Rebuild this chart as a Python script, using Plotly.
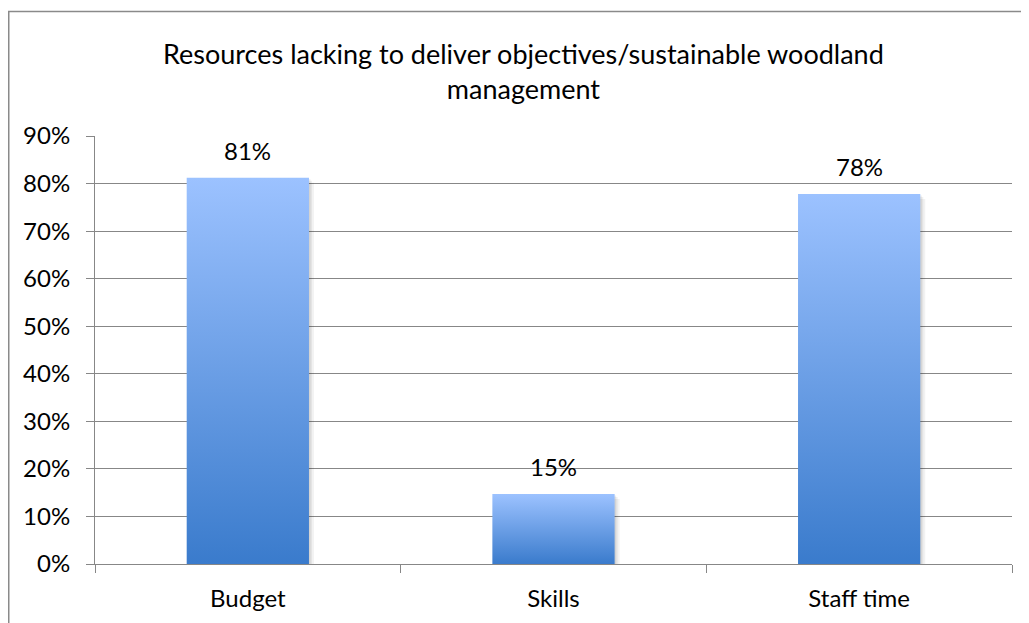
import plotly.graph_objects as go

categories = ["Budget", "Skills", "Staff time"]
values = [0.812, 0.147, 0.778]
y_tickvals = [0.0, 0.1, 0.2, 0.3, 0.4, 0.5, 0.6, 0.7, 0.8, 0.9]
y_ticktext = ["0%", "10%", "20%", "30%", "40%", "50%", "60%", "70%", "80%", "90%"]
title_text = "Resources lacking to deliver objectives/sustainable woodland<br>management"

FONT = "Lato"
GRID = "#878787"
BAR_BOTTOM = "#3A7BCC"
BAR_TOP = "#9CC2FF"
HALF = 0.2

# page body has an 8px default margin; size figure so it fills the window
OFF = 8
W, H = 1029 - OFF, 623 - OFF
ml, mr, mt, mb = 95 - OFF, 17, 136 - OFF, 59
pw = W - ml - mr
ph = H - mt - mb
XPX = 3.0 / pw   # one pixel in x data units (range width 3)
YPX = 0.9 / ph   # one pixel in y data units


def px_x(p):
    return (p - OFF - ml) / pw


def px_y(p):
    return (H - mb - (p - OFF)) / ph


fig = go.Figure()

# soft drop shadow behind bars
for i, v in enumerate(values):
    for s, a in ((5, 0.05), (3, 0.06), (1.5, 0.07)):
        x0, x1 = i - HALF + s * XPX, i + HALF + s * XPX
        fig.add_trace(go.Scatter(
            x=[x0, x1, x1, x0, x0],
            y=[0, 0, v - s * YPX, v - s * YPX, 0],
            fill="toself", fillcolor=f"rgba(0,0,0,{a})",
            mode="lines", line=dict(width=0), hoverinfo="skip",
            showlegend=False,
        ))

for i, (cat, v) in enumerate(zip(categories, values)):
    fig.add_trace(go.Scatter(
        x=[i - HALF, i + HALF, i + HALF, i - HALF, i - HALF],
        y=[0, 0, v, v, 0],
        fill="toself",
        fillgradient=dict(type="vertical",
                          colorscale=[[0, BAR_BOTTOM], [1, BAR_TOP]]),
        mode="lines",
        line=dict(width=0, color=BAR_TOP),
        name=cat,
        hovertemplate=f"{cat}: {v:.0%}<extra></extra>",
        showlegend=False,
    ))
    fig.add_annotation(x=i, y=v, text=f"{v:.0%}", showarrow=False,
                       yanchor="bottom", yshift=11,
                       font=dict(family=FONT, size=24, color="#000000"))

# outer chart border (left/top visible, right/bottom cropped)
fig.add_shape(type="rect", xref="paper", yref="paper",
              x0=px_x(8.75), x1=px_x(1045), y0=px_y(640), y1=px_y(11.5),
              line=dict(color="#8a8a8a", width=1.5), fillcolor="rgba(0,0,0,0)")

fig.add_annotation(text=title_text, xref="paper", yref="paper",
                   x=px_x(523), y=px_y(71), xanchor="center", yanchor="middle",
                   showarrow=False, align="center",
                   font=dict(family=FONT, size=27, color="#000000"))

fig.update_layout(
    width=W, height=H, autosize=False,
    margin=dict(l=ml, r=mr, t=mt, b=mb, pad=0),
    paper_bgcolor="white", plot_bgcolor="white",
    font=dict(family=FONT, size=24, color="#000000"),
    showlegend=False,
    xaxis=dict(
        range=[-0.5, 2.5], tickmode="array", tickvals=[0, 1, 2],
        ticktext=categories, ticks="", showgrid=False, zeroline=False,
        showline=True, linecolor=GRID, linewidth=1,
        ticklabelstandoff=13,
        tickfont=dict(family=FONT, size=24, color="#000000"),
        minor=dict(tickmode="array", tickvals=[-0.5, 0.5, 1.5, 2.5],
                   ticks="outside", ticklen=8, tickcolor=GRID, tickwidth=1,
                   showgrid=False),
        fixedrange=True,
    ),
    yaxis=dict(
        range=[0, 0.9], tickmode="array", tickvals=y_tickvals,
        ticktext=y_ticktext, ticks="outside", ticklen=8, tickcolor=GRID,
        tickwidth=1, showgrid=True, gridcolor=GRID, gridwidth=1,
        zeroline=False, showline=True, linecolor=GRID, linewidth=1,
        ticklabelstandoff=11,
        tickfont=dict(family=FONT, size=24, color="#000000"),
        fixedrange=True,
    ),
)

fig.write_html("out.html")
